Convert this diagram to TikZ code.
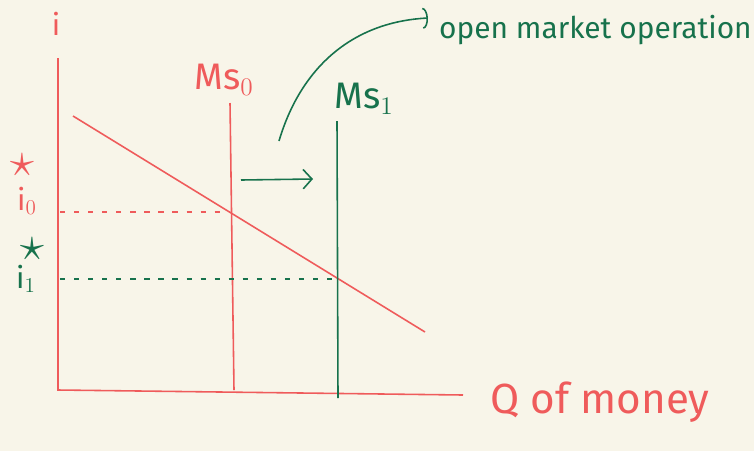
\documentclass[tikz,border=0pt]{standalone}
\usepackage{amsmath}
\usepackage{fontspec}
\setmainfont{Fira Sans}
\usetikzlibrary{arrows.meta, positioning}
\definecolor{mRed}{HTML}{EF5B5B}
\definecolor{mGreen}{HTML}{17724C}
\definecolor{mPaper}{HTML}{F8F5E9}
\tikzset{
  curve/.style={line width=0.9pt},
  guide/.style={line width=0.8pt, dash pattern=on 3pt off 5pt},
  hand/.style={font=\fontsize{17}{17}\selectfont, inner sep=1pt},
  mark star/.style={inner sep=0pt, text height=7pt, text depth=0pt}
}

\begin{document}
\begin{tikzpicture}[x=0.02cm, y=-0.02cm]
    \fill[mPaper] (0,0) rectangle (754,451);
    \useasboundingbox (0,0) rectangle (754,451);
    % axes
    \draw[curve, mRed] (58,58) -- (58,390) -- (463,395);
    \node[hand, mRed] (ylab) at (56,24) {i};
    \node[hand, mRed, font=\fontsize{24}{24}\selectfont] (xlab) at (600,402) {Q of money};
    % demand and supply
    \draw[curve, mRed] (73,116) -- (425,332);
    \draw[curve, mRed] (230,103) -- (234,390);
    \draw[curve, mGreen] (337,121) -- (338,398);
    \node[hand, mRed, font=\fontsize{21}{21}\selectfont] (ms0) at (224,80) {Ms$_0$};
    \node[hand, mGreen, font=\fontsize{21}{21}\selectfont] (ms1) at (364,99) {Ms$_1$};
    % interest rates
    \draw[guide, mRed] (60,212) -- (230,212);
    \draw[guide, mGreen] (60,279) -- (337,279);
    \node[hand, mRed, inner sep=0pt] (i0) at (27,201) {i$_0$};
    \node[hand, mRed, mark star] (s0) at (22,170) {\scalebox{1.6}{$\star$}};
    \node[hand, mGreen, inner sep=0pt] (i1) at (26,279) {i$_1$};
    \node[hand, mGreen, mark star] (s1) at (32,254) {\scalebox{1.6}{$\star$}};
    % shift
    \draw[curve, mGreen, -{Straight Barb[length=5pt, width=11pt]}] (241,180) -- (313,179);
    \node[hand, mGreen, anchor=west] (omo) at (437,30) {open market operation};
    \coordinate (omotip) at (428,18);
    \draw[curve, mGreen, -{Arc Barb[length=3pt, width=12pt]}] (279,141) .. controls (300,70) and (350,22) .. (omotip);
\end{tikzpicture}
\end{document}
